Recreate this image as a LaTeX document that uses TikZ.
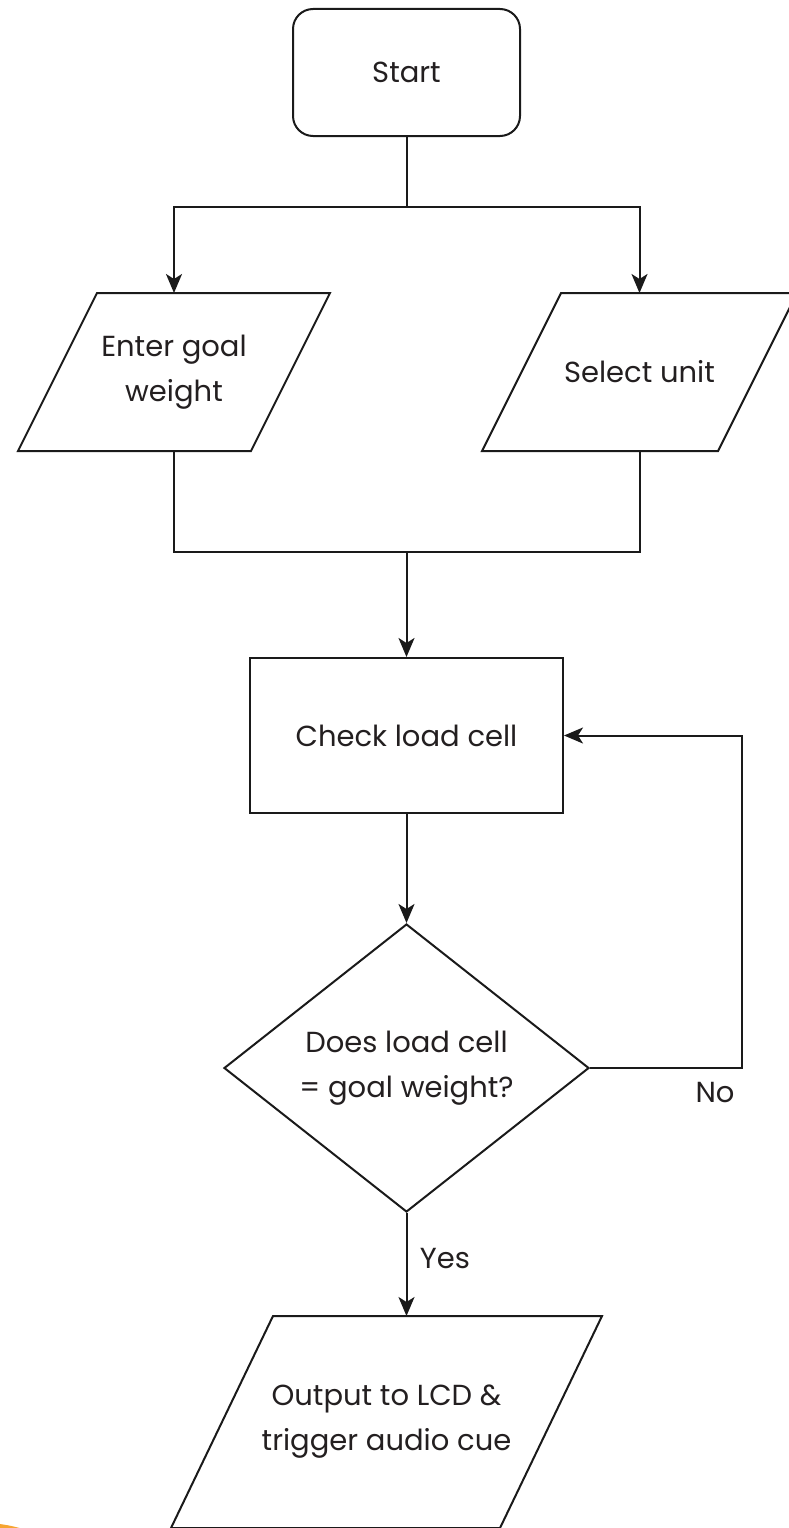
\documentclass[tikz,border=0pt]{standalone}
\usepackage{fontspec}
\setmainfont{Poppins}
\usetikzlibrary{shapes.geometric, arrows.meta, positioning}
\definecolor{ink}{HTML}{1A1A1A}
\definecolor{txt}{HTML}{231F20}
\definecolor{blob}{HTML}{F6A531}

\begin{document}
\begin{tikzpicture}[
    x=1pt, y=-1pt,
    color=ink, line width=2pt,
    base/.style={font=\fontsize{29}{45}\selectfont, text=txt, align=center, inner sep=2pt},
    term/.style={base, draw, rectangle, rounded corners=20pt, minimum width=227pt, minimum height=127pt},
    box/.style={base, draw, rectangle, minimum width=313pt, minimum height=155pt},
    io/.style={base, rectangle},
    decision/.style={base, draw, diamond, aspect=1.27, minimum width=365pt, minimum height=288pt},
    lbl/.style={font=\fontsize{29}{45}\selectfont, text=txt},
    arrow/.style={-{Stealth[length=19pt, width=16pt, inset=5pt]}}
  ]
    \useasboundingbox (0,0) rectangle (789,1528);
    \fill[blob] (-20,1672.7) circle (150pt);

    \node[term] (start) at (406.5,72.5) {Start};
    \node[io, minimum width=231pt, minimum height=156pt] (goal) at (174,372) {Enter goal\\weight};
    \node[io, minimum width=234pt, minimum height=156pt] (unit) at (639.5,372) {Select unit};
    \node[box, below=520pt of start] (check) {Check load cell};
    \node[decision, below=109pt of check] (match) {Does load cell\\= goal weight?};
    \node[io, minimum width=327pt, minimum height=210pt] (out) at (386.5,1422) {Output to LCD \&\\trigger audio cue};
    \node[lbl] (no) at (715,1092) {No};
    \node[lbl] (yes) at (445,1259) {Yes};

    \foreach \n/\s in {goal/39.5, unit/39.5, out/51}
      \draw ([xshift=\s pt]\n.north west) -- ([xshift=\s pt]\n.north east)
        -- ([xshift=-\s pt]\n.south east) -- ([xshift=-\s pt]\n.south west) -- cycle;

    \coordinate (split) at (406.5,207);
    \coordinate (merge) at (406.5,552);

    \draw (start) -- (split);
    \draw[arrow] (split) -| (goal.north);
    \draw[arrow] (split) -| (unit.north);
    \draw (goal.south) |- (merge) -| (unit.south);
    \draw[arrow] (merge) -- (check);
    \draw[arrow] (check) -- (match);
    \draw[arrow] (match.east) -- ++(152,0) |- (check.east);
    \draw[arrow] (match) -- (match.south |- out.north);
  \end{tikzpicture}
\end{document}
